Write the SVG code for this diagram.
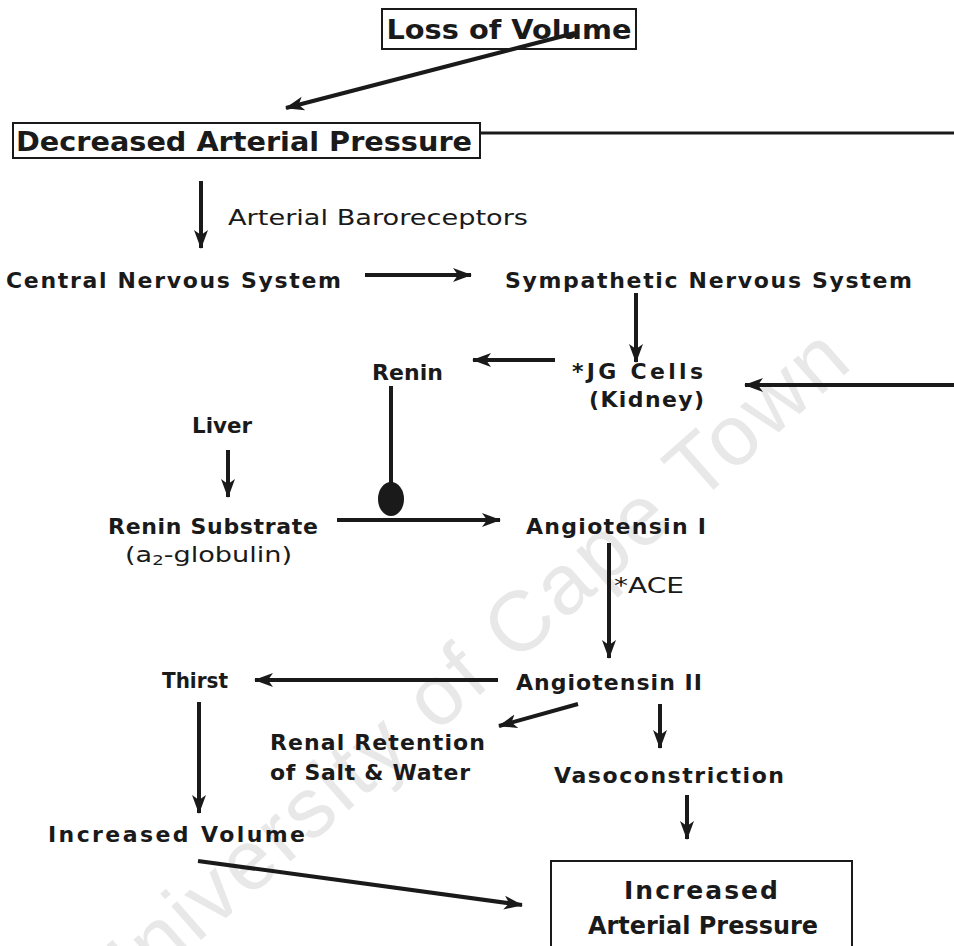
<svg xmlns="http://www.w3.org/2000/svg" width="954" height="946" viewBox="0 0 954 946">
<style>
  text { font-family: "DejaVu Sans", "Liberation Sans", Arial, sans-serif; fill: #1a1a1a; }
  .b { font-weight: bold; font-size: 22px; }
  .big { font-weight: bold; font-size: 27px; }
  .mid { font-weight: bold; font-size: 25px; }
  .r { font-size: 21px; }
  .ln { stroke: #1a1a1a; stroke-width: 4; fill: none; }
  .thin { stroke: #1a1a1a; stroke-width: 3; fill: none; }
  .box { stroke: #1a1a1a; stroke-width: 2; fill: none; }
  .wm { font-family: "Liberation Sans", Arial, sans-serif; font-size: 85px; fill: #e8e8e8; }
</style>
<defs>
  <marker id="ah" markerUnits="userSpaceOnUse" markerWidth="20" markerHeight="16" refX="18" refY="8" orient="auto">
    <path d="M0,1 L19,8 L0,15 L5,8 z" fill="#1a1a1a"/>
  </marker>
</defs>
<rect width="954" height="946" fill="#ffffff"/>
<text class="wm" x="0" y="0" transform="translate(110,1020) rotate(-41.3)" textLength="990" lengthAdjust="spacing">University of Cape Town</text>

<g id="loss-of-volume">
  <rect class="box" x="382" y="9" width="254" height="40"/>
  <text class="big" x="509" y="39" text-anchor="middle" textLength="245" lengthAdjust="spacingAndGlyphs">Loss of Volume</text>
</g>
<g id="decreased-arterial-pressure">
  <rect class="box" x="13" y="123" width="467" height="35"/>
  <text class="big" x="244" y="151" text-anchor="middle" textLength="456" lengthAdjust="spacingAndGlyphs">Decreased Arterial Pressure</text>
</g>
<g id="arterial-baroreceptors">
  <text class="r" x="228" y="225" textLength="300" lengthAdjust="spacingAndGlyphs">Arterial Baroreceptors</text>
</g>
<g id="cns">
  <text class="b" x="6" y="288" textLength="335" lengthAdjust="spacing">Central Nervous System</text>
</g>
<g id="sns">
  <text class="b" x="505" y="288" textLength="407" lengthAdjust="spacing">Sympathetic Nervous System</text>
</g>
<g id="renin">
  <text class="b" x="372" y="380" textLength="71" lengthAdjust="spacing">Renin</text>
</g>
<g id="jg-cells">
  <text class="b" x="572" y="379" textLength="131" lengthAdjust="spacing">*JG Cells</text>
  <text class="b" x="589" y="407" textLength="115" lengthAdjust="spacing">(Kidney)</text>
</g>
<g id="liver">
  <text class="b" x="192" y="433" textLength="60" lengthAdjust="spacingAndGlyphs">Liver</text>
</g>
<g id="renin-substrate">
  <text class="b" x="108" y="534" textLength="210" lengthAdjust="spacing">Renin Substrate</text>
  <text class="r" x="125" y="562" textLength="167" lengthAdjust="spacingAndGlyphs">(a<tspan font-size="14" dy="3">2</tspan><tspan dy="-3">-globulin)</tspan></text>
</g>
<g id="angiotensin-1">
  <text class="b" x="526" y="534" textLength="180" lengthAdjust="spacing">Angiotensin I</text>
</g>
<g id="ace">
  <text class="r" x="614" y="593" textLength="70" lengthAdjust="spacingAndGlyphs">*ACE</text>
</g>
<g id="angiotensin-2">
  <text class="b" x="516" y="690" textLength="186" lengthAdjust="spacing">Angiotensin II</text>
</g>
<g id="thirst">
  <text class="b" x="162" y="688" textLength="66" lengthAdjust="spacingAndGlyphs">Thirst</text>
</g>
<g id="renal-retention">
  <text class="b" x="270" y="750" textLength="215" lengthAdjust="spacing">Renal Retention</text>
  <text class="b" x="270" y="780" textLength="200" lengthAdjust="spacing">of Salt &amp; Water</text>
</g>
<g id="vasoconstriction">
  <text class="b" x="554" y="783" textLength="230" lengthAdjust="spacing">Vasoconstriction</text>
</g>
<g id="increased-volume">
  <text class="b" x="48" y="842" textLength="257" lengthAdjust="spacing">Increased Volume</text>
</g>
<g id="increased-arterial-pressure">
  <rect class="box" x="551" y="861" width="301" height="100"/>
  <text class="mid" x="701" y="899" text-anchor="middle" textLength="154" lengthAdjust="spacing">Increased</text>
  <text class="mid" x="703" y="934" text-anchor="middle" textLength="230" lengthAdjust="spacingAndGlyphs">Arterial Pressure</text>
</g>

<g id="connectors">
  <line class="ln" x1="575" y1="33" x2="286" y2="108" marker-end="url(#ah)"/>
  <line class="thin" x1="480" y1="133" x2="954" y2="133"/>
  <line class="ln" x1="954" y1="385" x2="745" y2="385" marker-end="url(#ah)"/>
  <line class="ln" x1="201" y1="181" x2="201" y2="248" marker-end="url(#ah)"/>
  <line class="ln" x1="365" y1="275" x2="471" y2="275" marker-end="url(#ah)"/>
  <line class="ln" x1="636" y1="293" x2="636" y2="362" marker-end="url(#ah)"/>
  <line class="ln" x1="555" y1="360" x2="473" y2="360" marker-end="url(#ah)"/>
  <line class="ln" x1="391" y1="386" x2="391" y2="485"/>
  <ellipse cx="391" cy="499" rx="13" ry="17" fill="#1a1a1a"/>
  <line class="ln" x1="228" y1="450" x2="228" y2="497" marker-end="url(#ah)"/>
  <line class="ln" x1="337" y1="520" x2="500" y2="520" marker-end="url(#ah)"/>
  <line class="ln" x1="609" y1="543" x2="609" y2="658" marker-end="url(#ah)"/>
  <line class="ln" x1="498" y1="680" x2="255" y2="680" marker-end="url(#ah)"/>
  <line class="ln" x1="199" y1="702" x2="199" y2="813" marker-end="url(#ah)"/>
  <line class="ln" x1="578" y1="704" x2="499" y2="726" marker-end="url(#ah)"/>
  <line class="ln" x1="660" y1="704" x2="660" y2="748" marker-end="url(#ah)"/>
  <line class="ln" x1="687" y1="795" x2="687" y2="839" marker-end="url(#ah)"/>
  <line class="ln" x1="198" y1="861" x2="522" y2="905" marker-end="url(#ah)"/>
</g>
</svg>
